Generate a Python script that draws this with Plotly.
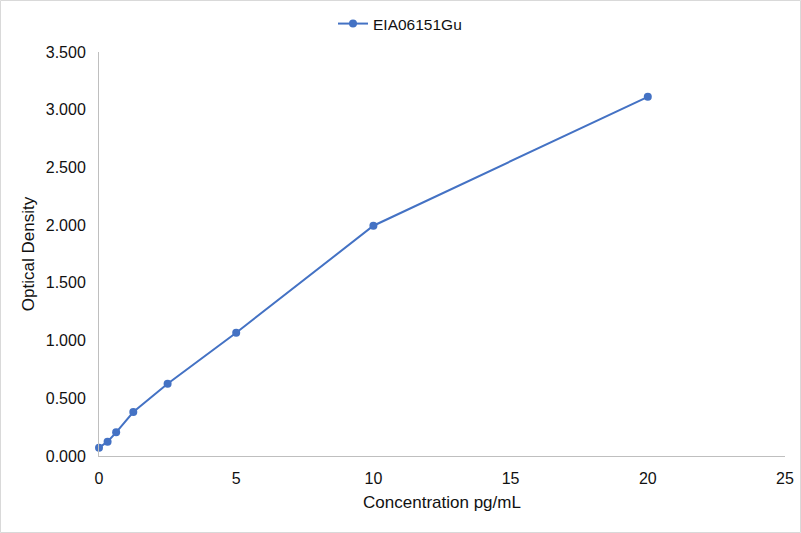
import plotly.graph_objects as go

# standard curve data
concentration = [0, 0.3125, 0.625, 1.25, 2.5, 5, 10, 20]
optical_density = [0.072, 0.124, 0.205, 0.381, 0.626, 1.068, 1.995, 3.112]
series_name = "EIA06151Gu"

W, H = 801, 533
ML, MR, MT, MB = 99, 16, 52, 77
pw, ph = W - ML - MR, H - MT - MB
TXT = "#111111"

fig = go.Figure()

fig.add_trace(go.Scatter(
    x=concentration,
    y=optical_density,
    mode="lines+markers",
    name=series_name,
    line=dict(color="#4472C4", width=2),
    marker=dict(color="#4472C4", size=8),
    cliponaxis=False,
))

# light grey frame around the whole chart
fig.add_shape(
    type="rect", xref="paper", yref="paper",
    x0=(0.5 - ML) / pw, x1=(W - 0.5 - ML) / pw,
    y0=(MT + ph - (H - 0.5)) / ph, y1=(MT + ph - 0.5) / ph,
    line=dict(color="#D9D9D9", width=1),
)

fig.update_layout(
    width=W, height=H,
    margin=dict(l=ML, r=MR, t=MT, b=MB, autoexpand=False),
    paper_bgcolor="white",
    plot_bgcolor="white",
    font=dict(family="Liberation Sans, Arial, sans-serif", size=16, color=TXT),
    showlegend=True,
    legend=dict(orientation="h", x=(400 - ML) / pw, xanchor="center",
                y=(MT + ph - 24) / ph, yanchor="middle",
                font=dict(size=15.5, color=TXT)),
    xaxis=dict(
        range=[0, 25], dtick=5, showgrid=False, zeroline=False, automargin=False,
        showline=True, linecolor="#BFBFBF", linewidth=1, ticks="",
        ticklabelstandoff=8,
        tickfont=dict(size=16, color=TXT),
        title=dict(text="Concentration pg/mL", font=dict(size=17, color=TXT), standoff=9),
    ),
    yaxis=dict(
        range=[0, 3.5], dtick=0.5, tickformat=".3f", showgrid=False, zeroline=False,
        automargin=False,
        showline=True, linecolor="#BFBFBF", linewidth=1, ticks="",
        ticklabelstandoff=9,
        tickfont=dict(size=16, color=TXT),
        title=dict(text="Optical Density", font=dict(size=17, color=TXT), standoff=6),
    ),
)

# drop the page's default body margin so the chart sits at the window's corner
fig.write_html("out.html", config={"displayModeBar": False},
               post_script="document.body.style.margin='0';")
